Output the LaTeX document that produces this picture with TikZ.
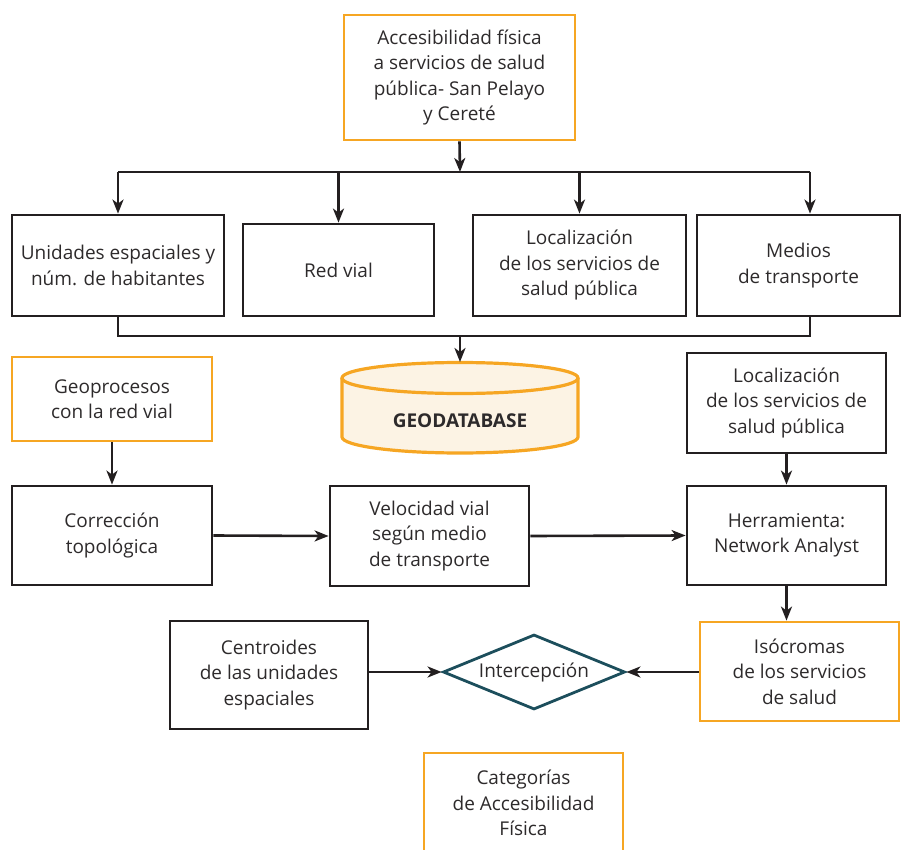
\documentclass[tikz,border=0pt]{standalone}
\usepackage{fontspec}
\setmainfont{Open Sans}
\usetikzlibrary{arrows.meta,shapes.geometric}
\definecolor{linea}{RGB}{35,31,32}
\definecolor{texto}{RGB}{45,42,43}
\definecolor{naranja}{RGB}{246,166,35}
\definecolor{crema}{RGB}{252,243,228}
\definecolor{petroleo}{RGB}{28,78,92}
\tikzset{
  caja/.style={rectangle, draw=linea, line width=2.8pt, align=center, text=texto, inner sep=0pt,
    font=\fontsize{19}{25.5}\selectfont},
  cajanar/.style={caja, draw=naranja},
  flecha/.style={-{Stealth[length=14pt,width=11pt,inset=4pt]}, line width=2.6pt, draw=linea},
  enlace/.style={line width=2.6pt, draw=linea},
}
\begin{document}
\begin{tikzpicture}[x=1pt, y=-1pt]
    \useasboundingbox (0,0) rectangle (902,850);

    % Cajas
    \node[cajanar, minimum width=231pt, minimum height=125pt] (acceso) at (459.5,77.5)
      {Accesibilidad física\\a servicios de salud\\pública- San Pelayo\\y Cereté};
    \node[caja, minimum width=212pt, minimum height=101pt] (unidades) at (118,265.5)
      {Unidades espaciales y\\núm. de habitantes};
    \node[caja, minimum width=191pt, minimum height=92pt] (redvial) at (338.5,270) {Red vial};
    \node[caja, minimum width=213pt, minimum height=101pt] (locA) at (579.5,265.5)
      {Localización\\de los servicios de\\salud pública};
    \node[caja, minimum width=203pt, minimum height=101pt] (medios) at (798.5,265.5)
      {Medios\\de transporte};
    \node[cajanar, minimum width=200pt, minimum height=84pt] (geoproc) at (112,399)
      {Geoprocesos\\con la red vial};
    \node[caja, minimum width=200pt, minimum height=99pt] (correccion) at (112,535.5)
      {Corrección\\topológica};
    \node[caja, minimum width=199pt, minimum height=100pt] (velocidad) at (429.5,536)
      {Velocidad vial\\según medio\\de transporte};
    \node[caja, minimum width=199pt, minimum height=100pt] (locB) at (786.5,403)
      {Localización\\de los servicios de\\salud pública};
    \node[caja, minimum width=199pt, minimum height=99pt] (herramienta) at (786.5,535.5)
      {Herramienta:\\Network Analyst};
    \node[cajanar, minimum width=199pt, minimum height=99pt] (isocromas) at (799.5,671.5)
      {Isócromas\\de los servicios\\de salud};
    \node[caja, minimum width=198pt, minimum height=108pt] (centroides) at (269,675)
      {Centroides\\de las unidades\\espaciales};
    \node[caja, diamond, draw=petroleo, aspect=2.43, minimum width=182pt, minimum height=75pt] (inter)
      at (534,672) {Intercepción};
    \node[cajanar, minimum width=199pt, minimum height=100pt] (categorias) at (523.5,803)
      {Categorías\\de Accesibilidad\\Física};

    % Geodatabase
    \fill[crema] (342,378) -- (342,437) arc[start angle=180, end angle=0, x radius=118, y radius=16]
      -- (578,378) arc[start angle=0, end angle=-180, x radius=118, y radius=15.5] -- cycle;
    \draw[naranja, line width=3.2pt, line join=round] (342,378) -- (342,437)
      arc[start angle=180, end angle=0, x radius=118, y radius=16] -- (578,378);
    \draw[naranja, line width=3.2pt] (460,378) ellipse[x radius=118, y radius=15.5];
    \node[text=texto, font=\fontsize{19}{23}\selectfont\bfseries] (gdb) at (460,421) {GEODATABASE};
    \coordinate (gdbtop) at (460,362);

    % Buses
    \coordinate (bus) at (460,172);
    \coordinate (busB) at (460,336);
    \coordinate (m1) at (810,172);
    \coordinate (m2) at (810,336);
    \draw[flecha] (acceso.south) -- (bus);
    \draw[enlace] (unidades.north |- bus) -- (m1);
    \draw[flecha] (unidades.north |- bus) -- (unidades.north);
    \draw[flecha] (redvial.north |- bus) -- (redvial.north);
    \draw[flecha] (locA.north |- bus) -- (locA.north);
    \draw[flecha] (m1) -- (m1 |- medios.north);
    \draw[enlace] (unidades.south) -- (unidades.south |- busB) -- (m2) -- (m2 |- medios.south);
    \draw[flecha] (busB) -- (gdbtop);

    % Flechas
    \draw[flecha] (geoproc.south) -- (correccion.north);
    \draw[flecha] (correccion.east) -- (velocidad.west);
    \draw[flecha] (velocidad.east) -- (herramienta.west);
    \draw[flecha] (locB.south) -- (herramienta.north);
    \draw[flecha] (herramienta.south) -- (herramienta.south |- isocromas.north);
    \draw[flecha] (isocromas.west |- inter.east) -- (inter.east);
    \draw[flecha] (centroides.east |- inter.west) -- (inter.west);
\end{tikzpicture}
\end{document}
